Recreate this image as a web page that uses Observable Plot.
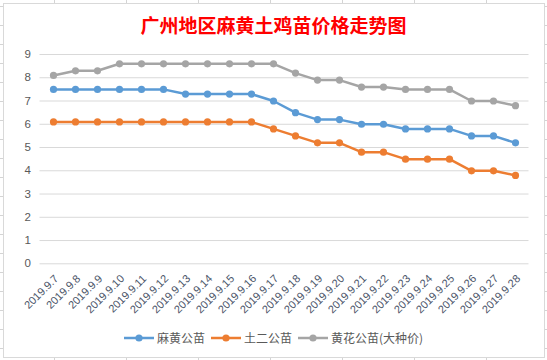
<!DOCTYPE html>
<html>
<head>
<meta charset="utf-8">
<script src="https://cdn.jsdelivr.net/npm/d3@7"></script>
<script src="https://cdn.jsdelivr.net/npm/@observablehq/plot@0.6"></script>
<style>
  html, body { margin: 0; padding: 0; }
  body {
    width: 547px; height: 360px; position: relative; overflow: hidden;
    background-color: #fff;
    background-image:
      linear-gradient(to right, #d4d4d4 1px, transparent 1px),
      linear-gradient(to bottom, #d4d4d4 1px, transparent 1px);
    background-size: 72px 100%, 100% 19px;
    background-position: 54px 0, 0 6px;
    font-family: "Noto Sans CJK SC", "Noto Sans", sans-serif;
  }
  #box {
    position: absolute; left: 3px; top: 3px; width: 540px; height: 353px;
    background: #fff; border: 1px solid #d9d9d9;
  }
  #title {
    position: absolute; left: 0; top: 11px; width: 547px; text-align: center;
    color: #ff0000; font-weight: bold; font-size: 19px; line-height: 28px;
    font-family: "Noto Sans CJK SC", sans-serif;
  }
  #chart { position: absolute; left: 0; top: 0; }
  #legend {
    position: absolute; left: 0; top: 329px; width: 547px;
    display: flex; justify-content: center; align-items: center;
    font-size: 12px; color: #595959; font-family: "Noto Sans CJK SC", sans-serif;
  }
  .item { display: flex; align-items: center; margin: 0 3px; }
  .item svg { margin-right: 3px; }
</style>
</head>
<body>
<div id="box"></div>
<div id="chart"></div>
<div id="title"></div>
<div id="legend"></div>
<script>
const titleText = "广州地区麻黄土鸡苗价格走势图";
const dates = ["2019.9.7","2019.9.8","2019.9.9","2019.9.10","2019.9.11","2019.9.12","2019.9.13","2019.9.14","2019.9.15","2019.9.16","2019.9.17","2019.9.18","2019.9.19","2019.9.20","2019.9.21","2019.9.22","2019.9.23","2019.9.24","2019.9.25","2019.9.26","2019.9.27","2019.9.28"];
const seriesNames = ["麻黄公苗", "土二公苗", "黄花公苗(大种价)"];
const mahuang = [7.5,7.5,7.5,7.5,7.5,7.5,7.3,7.3,7.3,7.3,7.0,6.5,6.2,6.2,6.0,6.0,5.8,5.8,5.8,5.5,5.5,5.2];
const tuer = [6.1,6.1,6.1,6.1,6.1,6.1,6.1,6.1,6.1,6.1,5.8,5.5,5.2,5.2,4.8,4.8,4.5,4.5,4.5,4.0,4.0,3.8];
const huanghua = [8.1,8.3,8.3,8.6,8.6,8.6,8.6,8.6,8.6,8.6,8.6,8.2,7.9,7.9,7.6,7.6,7.5,7.5,7.5,7.0,7.0,6.8];
const yTicks = [0,1,2,3,4,5,6,7,8,9];
const colors = ["#5B9BD5", "#ED7D31", "#A5A5A5"];

const seriesValues = [mahuang, tuer, huanghua];
const data = [];
seriesNames.forEach((s, i) => dates.forEach((d, j) => data.push({date: d, series: s, value: seriesValues[i][j]})));

document.getElementById("title").textContent = titleText;

const chart = Plot.plot({
  width: 547,
  height: 360,
  marginTop: 54,
  marginBottom: 96.7,
  marginLeft: 39.5,
  marginRight: 18.5,
  style: {background: "transparent", fontFamily: "'Liberation Sans', sans-serif"},
  x: {type: "point", domain: dates, padding: 0.5},
  y: {domain: [0, 9]},
  color: {domain: seriesNames, range: colors},
  marks: [
    Plot.gridY(yTicks, {stroke: "#d9d9d9", strokeOpacity: 1, strokeWidth: 1}),
    Plot.axisY(yTicks, {tickSize: 0, tickPadding: 9, fontSize: 11.5, fill: "#595959", label: null}),
    Plot.axisX({tickSize: 0, tickRotate: -45, tickPadding: 13, dx: 3, fontSize: 11, fill: "#4a5468", label: null}),
    Plot.line(data, {x: "date", y: "value", z: "series", stroke: "series", strokeWidth: 2.5, curve: "linear"}),
    Plot.dot(data, {x: "date", y: "value", fill: "series", r: 3.6, stroke: "none"})
  ]
});
document.getElementById("chart").appendChild(chart);

const legend = document.getElementById("legend");
seriesNames.forEach((s, i) => {
  const item = document.createElement("div");
  item.className = "item";
  item.innerHTML = `<svg width="30" height="10"><line x1="0" x2="30" y1="5" y2="5" stroke="${colors[i]}" stroke-width="2.5"/><circle cx="15" cy="5" r="3.6" fill="${colors[i]}"/></svg><span>${s}</span>`;
  legend.appendChild(item);
});
</script>
</body>
</html>
